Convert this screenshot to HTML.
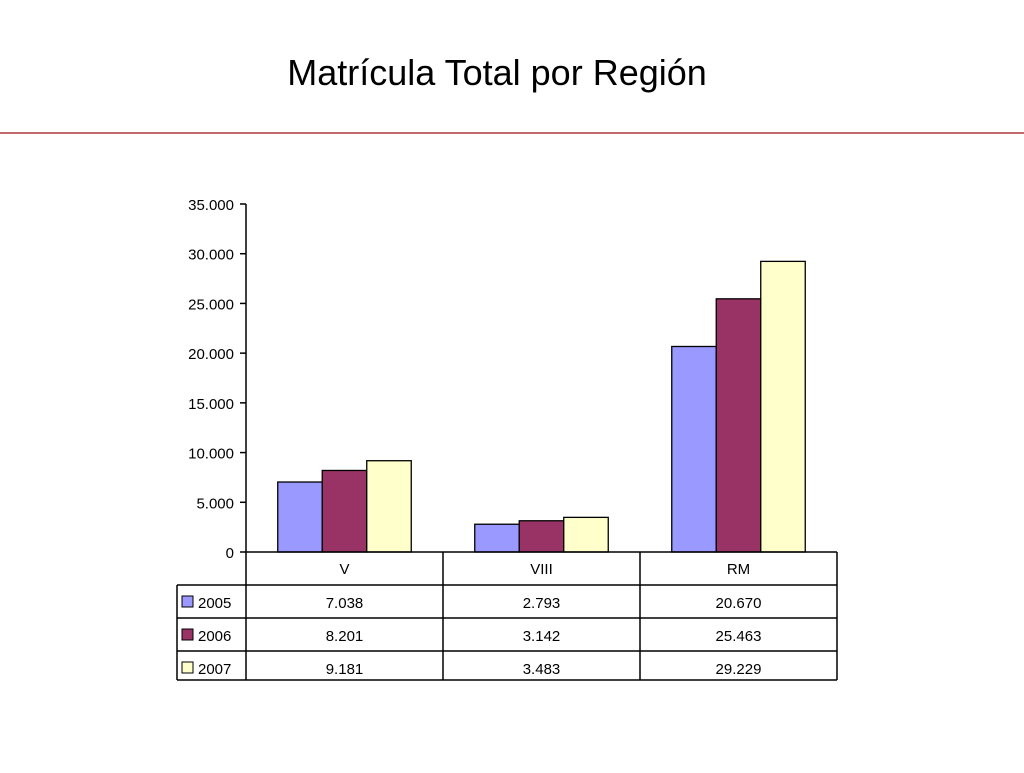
<!DOCTYPE html>
<html><head><meta charset="utf-8"><style>
body{margin:0;background:#fff;width:1024px;height:768px;overflow:hidden;font-family:"Liberation Sans",sans-serif;}
</style></head><body>
<svg width="1024" height="768" xmlns="http://www.w3.org/2000/svg" font-family="Liberation Sans, sans-serif">
<text x="497" y="85" text-anchor="middle" font-size="36" fill="#000">Matrícula Total por Región</text>
<rect x="0" y="132" width="1024" height="2" fill="#c0686c"/>
<g id="plot"></g>
</svg>
<script>
const categories=["V","VIII","RM"];
const seriesNames=["2005","2006","2007"];
const s2005=[7038,2793,20670];
const s2006=[8201,3142,25463];
const s2007=[9181,3483,29229];
const labels2005=["7.038","2.793","20.670"];
const labels2006=["8.201","3.142","25.463"];
const labels2007=["9.181","3.483","29.229"];
const yTicks=[0,5000,10000,15000,20000,25000,30000,35000];
const yTickLabels=["0","5.000","10.000","15.000","20.000","25.000","30.000","35.000"];
const colors=["#9999ff","#993366","#ffffcc"];
const NS="http://www.w3.org/2000/svg";
const g=document.getElementById('plot');
const x0=246,catW=197,y0=552,yTop=204,yMax=35000;
const y=v=>y0-(v/yMax)*(y0-yTop);
function mk(t,a){const e=document.createElementNS(NS,t);for(const k in a)e.setAttribute(k,a[k]);g.appendChild(e);return e;}
function txt(x,yy,s,anchor){const e=mk('text',{x:x,y:yy,'font-size':15,'text-anchor':anchor,fill:'#000'});e.textContent=s;return e;}
// y axis
let ax=mk('line',{x1:x0,y1:yTop,x2:x0,y2:y0,stroke:'#000','stroke-width':1.5});


yTicks.forEach((v,i)=>{
  let t=mk('line',{x1:x0-6,y1:y(v),x2:x0,y2:y(v),stroke:'#000','stroke-width':1.5});
  
  
  let l=txt(x0-12,y(v)+6,yTickLabels[i],'end');
  
  
});
const series=[s2005,s2006,s2007];
const slabels=[labels2005,labels2006,labels2007];
const bw=44.5,gap=(catW-3*bw)/2;
categories.forEach((c,ci)=>{
  series.forEach((s,si)=>{
    const bx=x0+ci*catW+gap+si*bw;
    let r=mk('rect',{x:bx,y:y(s[ci]),width:bw,height:y0-y(s[ci]),fill:colors[si],stroke:'#000','stroke-width':1.3});
    
    
  });
});
// data table
const rows=[552,585,618,651,680];
const right=x0+3*catW;
let tb=mk('g',{});


mk('line',{x1:x0,y1:552,x2:right,y2:552,stroke:'#000','stroke-width':1.5});
for(let i=1;i<rows.length;i++){mk('line',{x1:177,y1:rows[i],x2:right,y2:rows[i],stroke:'#000','stroke-width':1.5});}
mk('line',{x1:177,y1:585,x2:177,y2:680,stroke:'#000','stroke-width':1.5});
for(let i=0;i<=3;i++){mk('line',{x1:x0+i*catW,y1:552,x2:x0+i*catW,y2:680,stroke:'#000','stroke-width':1.5});}
categories.forEach((c,ci)=>{
  let l=txt(x0+ci*catW+catW/2,574,c,'middle');
  
  
  slabels.forEach((lab,si)=>{
    let v=txt(x0+ci*catW+catW/2,rows[si+1]+23,lab[ci],'middle');
    
    
  });
});
seriesNames.forEach((n,si)=>{
  let k=mk('rect',{x:182,y:rows[si+1]+11,width:11,height:11,fill:colors[si],stroke:'#000','stroke-width':1});
  
  
  let l=txt(198,rows[si+1]+23,n,'start');
  
  
});
</script>
</body></html>
